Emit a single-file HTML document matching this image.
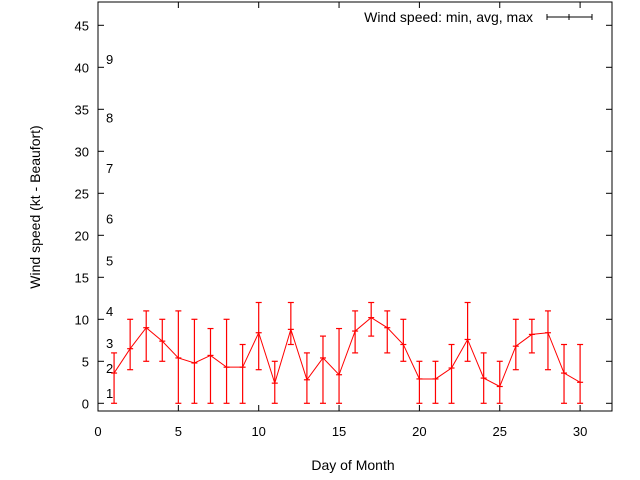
<!DOCTYPE html>
<html><head><meta charset="utf-8"><style>
body{margin:0;background:#fff}
svg{display:block;font-family:"Liberation Sans",sans-serif}
</style></head><body>
<svg id="chart" width="640" height="480">
<rect x="0" y="0" width="640" height="480" fill="#fff"/>
<g id="axes"></g>
<g id="beaufort" font-size="13" fill="#000"></g>
<g id="series"></g>
<g>
<text x="533" y="22" font-size="14" text-anchor="end">Wind speed: min, avg, max</text>
<line x1="547" y1="17" x2="592" y2="17" stroke="#000"/>
<line x1="547" y1="14" x2="547" y2="20" stroke="#000"/>
<line x1="592" y1="14" x2="592" y2="20" stroke="#000"/>
<line x1="569" y1="14" x2="569" y2="20" stroke="#000"/>
</g>
<text x="353" y="470" font-size="14" text-anchor="middle">Day of Month</text>
<text transform="translate(40,207) rotate(-90)" font-size="14" text-anchor="middle">Wind speed (kt - Beaufort)</text>
</svg>
<script>
const days=[1,2,3,4,5,6,7,8,9,10,11,12,13,14,15,16,17,18,19,20,21,22,23,24,25,26,27,28,29,30];
const avgs=[3.6,6.5,9,7.4,5.4,4.8,5.7,4.3,4.3,8.4,2.4,8.8,2.8,5.4,3.4,8.6,10.2,9,7,2.9,2.9,4.2,7.6,3,2,6.8,8.2,8.4,3.6,2.5];
const mins=[0,4,5,5,0,0,0,0,0,4,0,7,0,0,0,6,8,6,5,0,0,0,5,0,0,4,6,4,0,0];
const maxs=[6,10,11,10,11,10,8.9,10,7,12,5,12,6,8,8.9,11,12,11,10,5,5,7,12,6,5,10,10,11,7,7];
const xTicks=[0,5,10,15,20,25,30];
const yTicks=[0,5,10,15,20,25,30,35,40,45];
const beaufortLabels=["1","2","3","4","5","6","7","8","9"];
const beaufortKt=[1.2,4.2,7.2,11,17,22,28,34,41];
const L=98,R=612,T=2,B=411;
const sx=v=>98+v*16.07;
const sy=v=>403.3-v*8.4;
const NS="http://www.w3.org/2000/svg";
function mk(tag,attrs,parent){const e=document.createElementNS(NS,tag);for(const k in attrs)e.setAttribute(k,attrs[k]);parent.appendChild(e);return e;}
const ax=document.getElementById('axes');
const frame=mk('rect',{x:L,y:T,width:R-L,height:B-T,fill:'none',stroke:'#000'},ax);


xTicks.forEach(v=>{
 const x=sx(v);
 mk('line',{x1:x,y1:B,x2:x,y2:B-6,stroke:'#000'},ax);
 mk('line',{x1:x,y1:T,x2:x,y2:T+6,stroke:'#000'},ax);
 const t=mk('text',{x:x,y:B+25,'font-size':13,'text-anchor':'middle'},ax);
 t.textContent=v;
 
 
});
yTicks.forEach(v=>{
 const y=sy(v);
 mk('line',{x1:L,y1:y,x2:L+6,y2:y,stroke:'#000'},ax);
 mk('line',{x1:R,y1:y,x2:R-6,y2:y,stroke:'#000'},ax);
 const t=mk('text',{x:L-9,y:y+5,'font-size':13,'text-anchor':'end'},ax);
 t.textContent=v;
 
 
});
const bf=document.getElementById('beaufort');
beaufortLabels.forEach((s,i)=>{
 const t=mk('text',{x:106,y:sy(beaufortKt[i])+5},bf);
 t.textContent=s;
 
 
});
const sg=document.getElementById('series');
const pts=days.map((d,i)=>sx(d)+','+sy(avgs[i])).join(' ');
const pl=mk('polyline',{points:pts,fill:'none',stroke:'#f00','stroke-width':1},sg);


days.forEach((d,i)=>{
 const x=sx(d);
 const g=mk('g',{stroke:'#f00','stroke-width':1.2},sg);
 
 
 mk('line',{x1:x,y1:sy(mins[i]),x2:x,y2:sy(maxs[i])},g);
 mk('line',{x1:x-3,y1:sy(mins[i]),x2:x+3,y2:sy(mins[i])},g);
 mk('line',{x1:x-3,y1:sy(maxs[i]),x2:x+3,y2:sy(maxs[i])},g);
 mk('line',{x1:x-3,y1:sy(avgs[i]),x2:x+3,y2:sy(avgs[i])},g);
});
</script>
</body></html>
